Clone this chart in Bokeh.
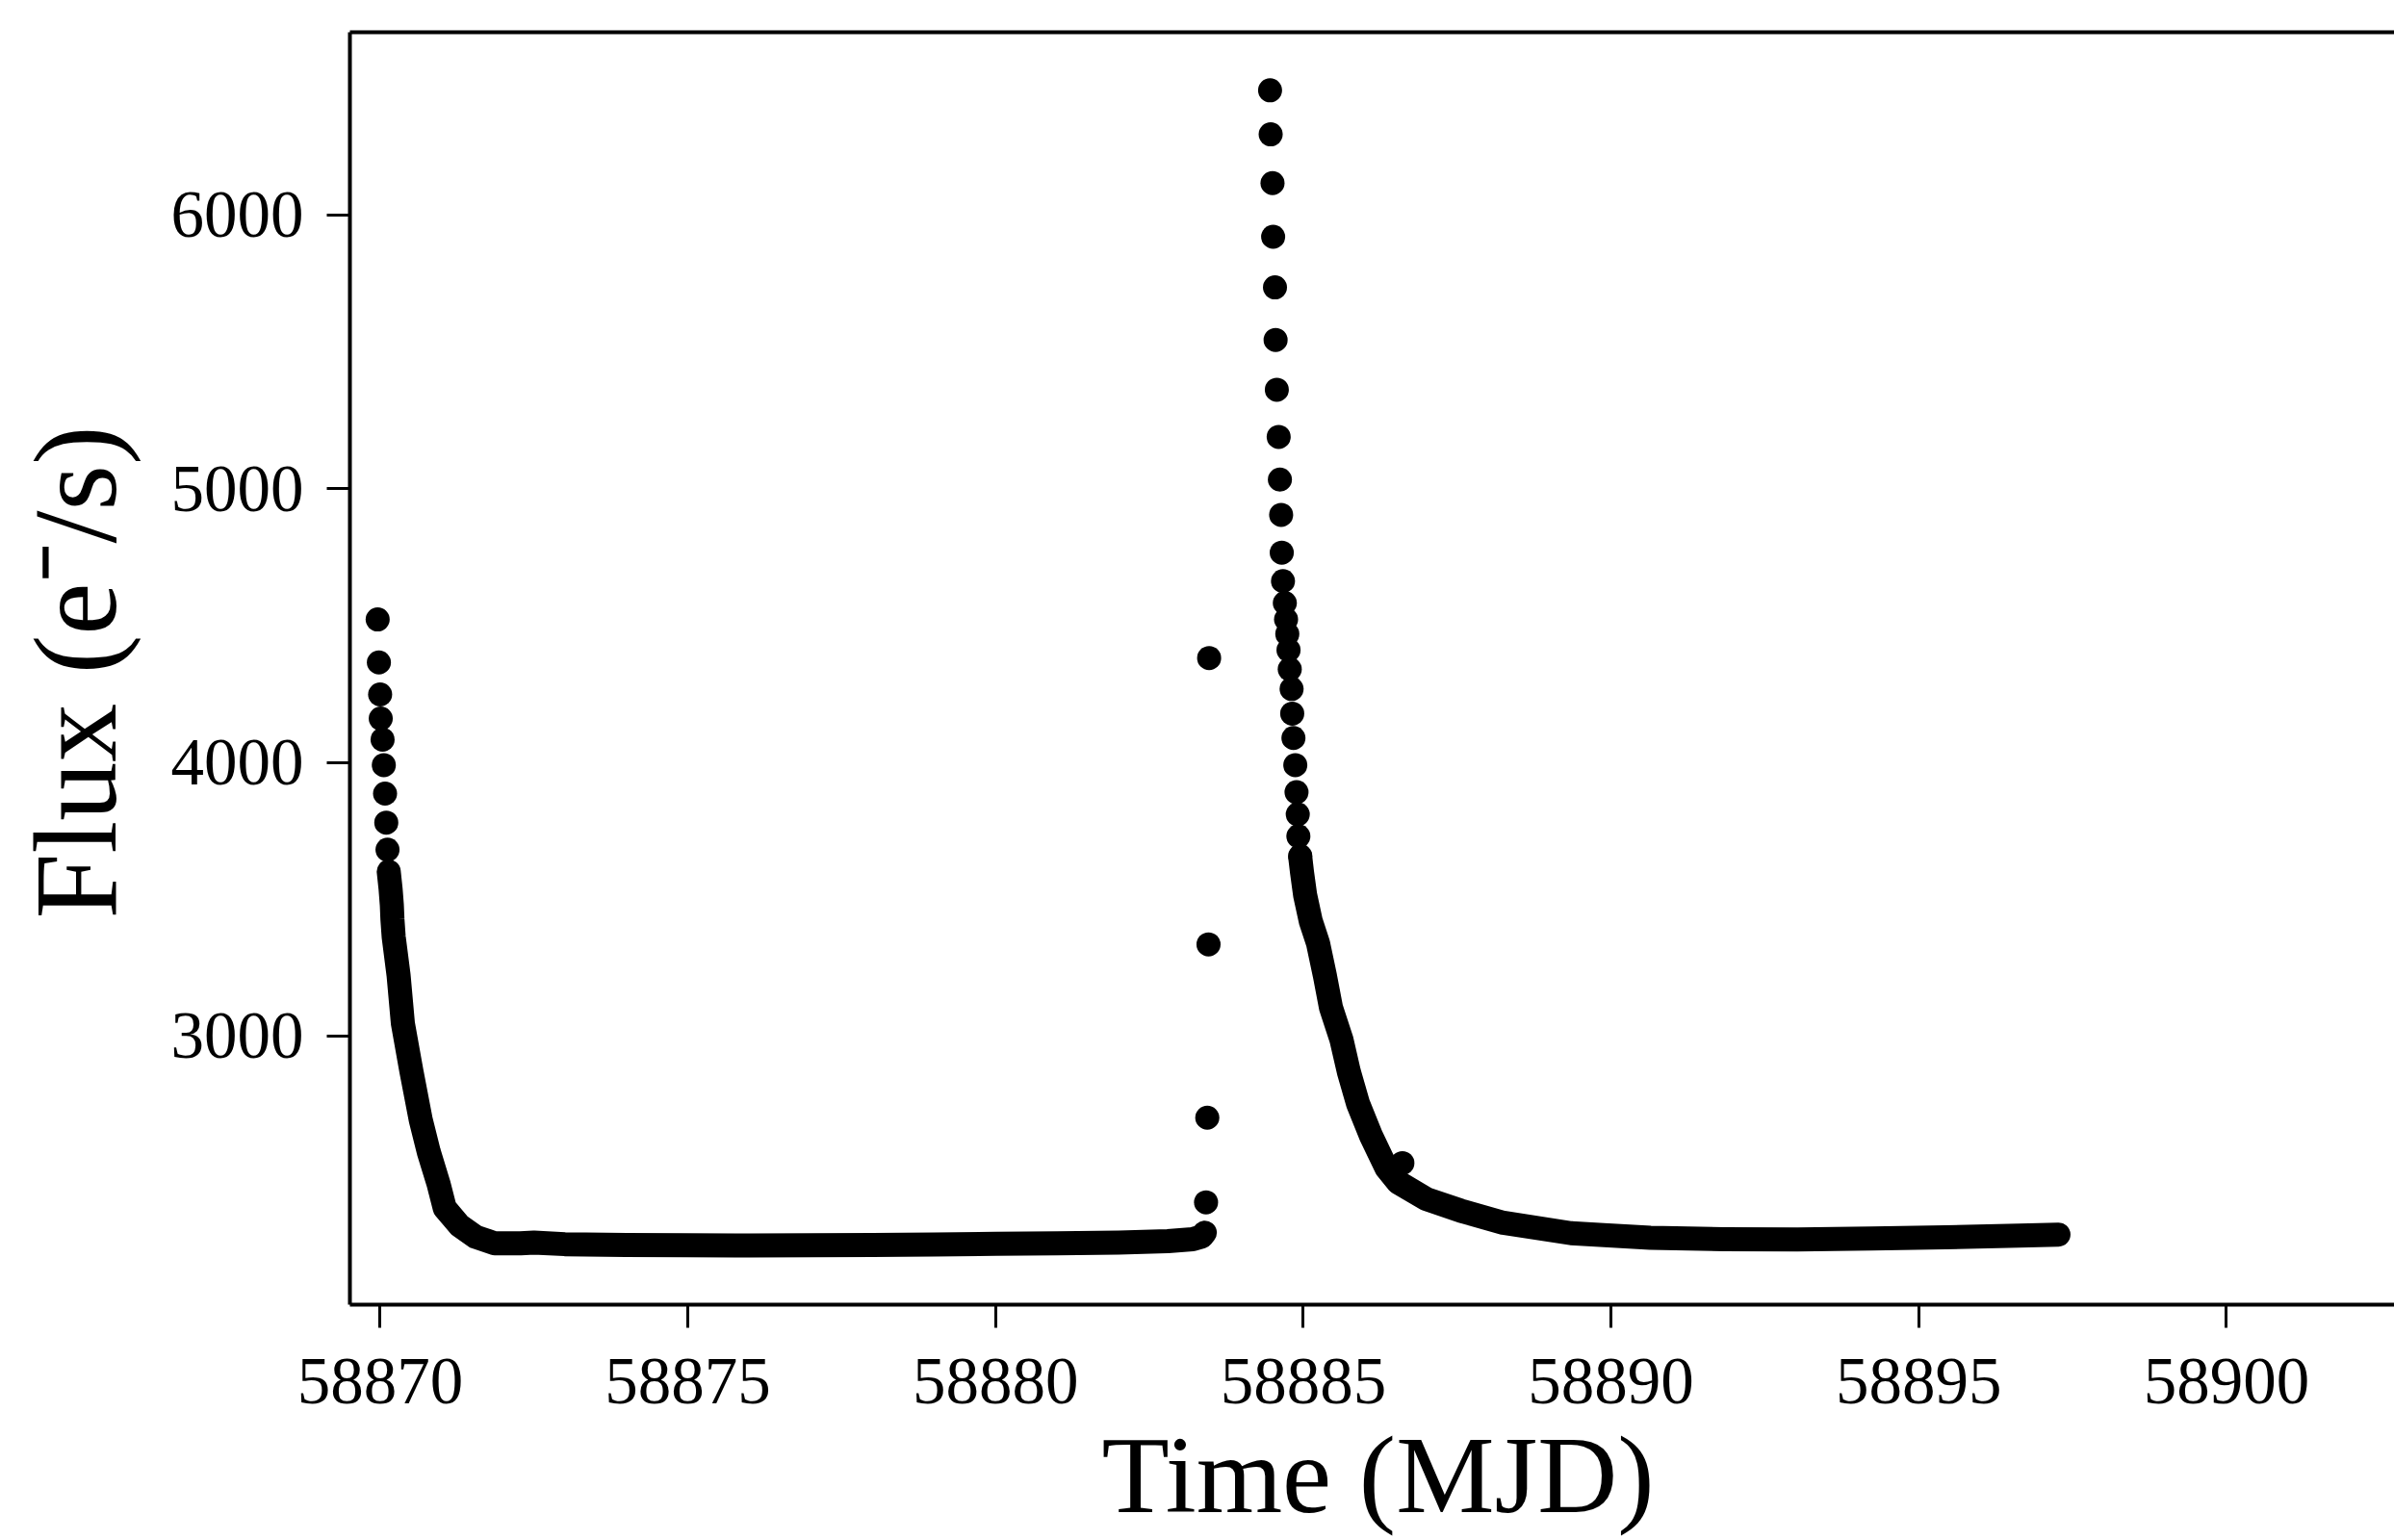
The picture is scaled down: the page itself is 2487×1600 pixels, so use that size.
import math
from bokeh.plotting import figure
from bokeh.models import Range1d, FixedTicker, PrintfTickFormatter, LinearAxis, Label
from bokeh.embed import file_html
from bokeh.resources import INLINE

# ---- data (Time in MJD, Flux in e-/s) ----
# first decay: clearly separated early points
early_t = [58869.96, 58869.98, 58870.00, 58870.01, 58870.04, 58870.06, 58870.08, 58870.10, 58870.12]
early_f = [4522, 4365, 4248, 4160, 4083, 3990, 3886, 3780, 3681]

# first decay: dense (overlapping) track and flat baseline
band1_t = [58870.14, 58870.17, 58870.19, 58870.20, 58870.22, 58870.30, 58870.37, 58870.51,
           58870.66, 58870.79, 58870.95, 58871.05, 58871.29, 58871.55, 58871.86, 58872.28,
           58872.50, 58873.00, 58874.00, 58875.00, 58876.00, 58877.00, 58878.00, 58879.00,
           58880.00, 58881.00, 58882.00, 58882.80, 58883.20, 58883.35, 58883.40]
band1_f = [3601, 3538, 3480, 3427, 3363, 3222, 3046, 2870,
           2694, 2577, 2460, 2372, 2308, 2267, 2243, 2243,
           2246, 2240, 2237, 2236, 2235, 2236, 2237, 2239,
           2241, 2243, 2246, 2251, 2258, 2268, 2282]

# isolated points in the gap
gap_t = [58883.42, 58883.44, 58883.46, 58883.47]
gap_f = [2393, 2702, 3335, 4381]

# second flare: separated points near the peak
peak_t = [58884.46, 58884.47, 58884.50, 58884.51, 58884.54, 58884.55, 58884.57, 58884.60,
          58884.62, 58884.64, 58884.65, 58884.67, 58884.70, 58884.72, 58884.74, 58884.76,
          58884.78, 58884.81, 58884.82, 58884.84, 58884.87, 58884.89, 58884.91, 58884.92,
          58884.95]
peak_f = [6455, 6294, 6116, 5920, 5735, 5543, 5361, 5189,
          5033, 4904, 4766, 4662, 4582, 4522, 4469, 4410,
          4340, 4268, 4178, 4089, 3990, 3891, 3810, 3730,
          3658]

# second decay: dense track and tail
band2_t = [58884.95, 58884.98, 58885.03, 58885.12, 58885.24, 58885.35, 58885.45, 58885.62,
           58885.74, 58885.89, 58886.10, 58886.35, 58886.54, 58887.00, 58887.56, 58888.25,
           58889.35, 58890.64, 58891.83, 58893.03, 58894.23, 58895.43, 58896.63, 58897.27]
band2_f = [3655, 3597, 3515, 3421, 3339, 3222, 3104, 2987,
           2870, 2753, 2636, 2519, 2466, 2405, 2362, 2318,
           2280, 2263, 2258, 2257, 2261, 2265, 2271, 2275]

# single outlier on the second decay
out_t = [58886.61]
out_f = [2536]

x_ticks = [58870, 58875, 58880, 58885, 58890, 58895, 58900]
y_ticks = [3000, 4000, 5000, 6000]
x_title = "Time (MJD)"
y_title = "Flux (e\u207b/s)"
x_lim = (58869.509, 58902.73)
y_lim = (2019, 6667)

FONT = "Liberation Serif"

# --- layout (pixels on the page) ---
W, H = 2487, 1600
AX_L, AX_T, AX_B = 363, 33, 1355     # axes box: left, top, bottom (right runs off the page)
pxu_x = (W - AX_L) / (x_lim[1] - x_lim[0])
pxu_y = (AX_B - AX_T) / (y_lim[1] - y_lim[0])
# the plotting frame covers the whole canvas; axes are pinned at the box edges
x_view = (x_lim[0] - AX_L / pxu_x, x_lim[1])
y_view = (y_lim[0] - (H - AX_B) / pxu_y, y_lim[1] + AX_T / pxu_y)

p = figure(width=W, height=H, output_backend="svg", toolbar_location=None,
           x_range=Range1d(*x_view), y_range=Range1d(*y_view),
           min_border_left=0, min_border_right=0, min_border_top=0,
           min_border_bottom=0)
p.outline_line_color = None
p.grid.visible = False
p.background_fill_color = "white"
p.border_fill_color = "white"

MS = 25
p.line(band1_t, band1_f, line_width=MS, line_join="round", line_cap="round", color="black")
p.line(band2_t, band2_f, line_width=MS, line_join="round", line_cap="round", color="black")
for xs, ys in [(early_t, early_f), (gap_t, gap_f), (peak_t, peak_f), (out_t, out_f)]:
    p.scatter(xs, ys, size=MS, color="black", line_color=None)

# axes styling
xa = p.xaxis[0]
ya = p.yaxis[0]
xa.ticker = FixedTicker(ticks=x_ticks)
ya.ticker = FixedTicker(ticks=y_ticks)
xa.formatter = PrintfTickFormatter(format="%d")
ya.formatter = PrintfTickFormatter(format="%d")
for ax in (xa, ya):
    ax.axis_line_width = 4
    ax.axis_line_color = "black"
    ax.major_tick_line_width = 3
    ax.major_tick_line_color = "black"
    ax.major_tick_out = 24
    ax.major_tick_in = 0
    ax.minor_tick_line_color = None
    ax.major_label_text_font = FONT
    ax.major_label_text_font_size = "69px"
    ax.major_label_text_color = "black"

xa.fixed_location = y_lim[0]
xa.bounds = x_lim
xa.major_label_standoff = 32

ya.fixed_location = x_lim[0]
ya.bounds = y_lim
ya.major_label_standoff = 24

top = LinearAxis(ticker=FixedTicker(ticks=[]), major_label_text_font_size="0px",
                 major_tick_out=0, major_tick_in=0, minor_tick_line_color=None,
                 major_label_standoff=0, axis_line_width=4, axis_line_color="black",
                 fixed_location=y_lim[1], bounds=x_lim)
p.add_layout(top, "above")

# axis titles (screen px, measured from the canvas bottom-left)
p.add_layout(Label(x=1431, y=68, x_units="screen", y_units="screen", text=x_title,
                   text_font=FONT, text_font_size="115px", text_color="black",
                   text_align="center", text_baseline="alphabetic"))
p.add_layout(Label(x=78, y=H - 698, x_units="screen", y_units="screen", text=y_title,
                   angle=math.pi / 2, text_font=FONT, text_font_size="122px",
                   text_color="black", text_align="center", text_baseline="alphabetic"))

open("out.html", "w").write(file_html(p, INLINE))
